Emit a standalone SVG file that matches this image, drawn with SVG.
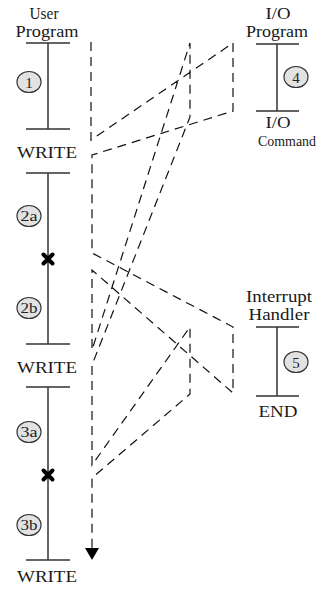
<svg xmlns="http://www.w3.org/2000/svg" width="323" height="589" viewBox="0 0 323 589">
<defs>
<style>
.t{font-family:"Liberation Serif","Times New Roman",serif;font-size:17px;fill:#1a1a1a;text-anchor:middle}
.c{font-family:"Liberation Serif","Times New Roman",serif;font-size:15px;fill:#222;text-anchor:middle}
.s{stroke:#333;stroke-width:1.5;fill:none}
.e{fill:#e2e2e2;stroke:#333;stroke-width:1.2}
.x{stroke:#000;stroke-width:4;stroke-linecap:round}
.d{stroke:#111;stroke-width:1.2;fill:none;stroke-dasharray:9 6}
</style>
<marker id="ah" viewBox="0 0 12 14" refX="0" refY="7" markerWidth="12" markerHeight="14" markerUnits="userSpaceOnUse" orient="auto">
<path d="M0,0 L12,7 L0,14 Z" fill="#000"/>
</marker>
</defs>
<rect width="323" height="589" fill="#fff"/>

<g id="user-program">
<text class="t" x="44" y="19" textLength="29" lengthAdjust="spacingAndGlyphs">User</text>
<text class="t" x="47" y="37" textLength="63" lengthAdjust="spacingAndGlyphs">Program</text>
<path class="s" d="M26,43 H70 M48,43 V129 M26,129 H70 M26,173 H70 M48,173 V344 M26,344 H70 M26,387 H70 M48,387 V560 M26,560 H70"/>
<text class="t" x="47" y="158" textLength="60" lengthAdjust="spacingAndGlyphs">WRITE</text>
<text class="t" x="47" y="373" textLength="60" lengthAdjust="spacingAndGlyphs">WRITE</text>
<text class="t" x="47" y="582" textLength="60" lengthAdjust="spacingAndGlyphs">WRITE</text>
<ellipse class="e" cx="29" cy="82" rx="12" ry="10.5"/>
<text class="c" x="29" y="87.5">1</text>
<ellipse class="e" cx="29" cy="216" rx="12" ry="10.5"/>
<text class="c" x="29" y="221" textLength="17" lengthAdjust="spacingAndGlyphs">2a</text>
<ellipse class="e" cx="29" cy="308" rx="12" ry="10.5"/>
<text class="c" x="29" y="313" textLength="17" lengthAdjust="spacingAndGlyphs">2b</text>
<ellipse class="e" cx="29" cy="432" rx="12" ry="10.5"/>
<text class="c" x="29" y="437" textLength="17" lengthAdjust="spacingAndGlyphs">3a</text>
<ellipse class="e" cx="29" cy="525" rx="12" ry="10.5"/>
<text class="c" x="29" y="530" textLength="17" lengthAdjust="spacingAndGlyphs">3b</text>
<path class="x" d="M43.5,254.5 L52.5,263.5 M52.5,254.5 L43.5,263.5"/>
<path class="x" d="M43.5,470.5 L52.5,479.5 M52.5,470.5 L43.5,479.5"/>
</g>

<g id="io-program">
<text class="t" x="278" y="19" textLength="25" lengthAdjust="spacingAndGlyphs">I/O</text>
<text class="t" x="277" y="37" textLength="62" lengthAdjust="spacingAndGlyphs">Program</text>
<path class="s" d="M256,44 H299 M277,44 V111 M256,111 H299"/>
<ellipse class="e" cx="296" cy="77" rx="12" ry="10.5"/>
<text class="c" x="296" y="82.5">4</text>
<text class="t" x="278" y="128" textLength="25" lengthAdjust="spacingAndGlyphs">I/O</text>
<text class="t" x="287" y="146" style="font-size:14.5px" textLength="58" lengthAdjust="spacingAndGlyphs">Command</text>
</g>

<g id="interrupt-handler">
<text class="t" x="279" y="302" textLength="66" lengthAdjust="spacingAndGlyphs">Interrupt</text>
<text class="t" x="279" y="320" textLength="61" lengthAdjust="spacingAndGlyphs">Handler</text>
<path class="s" d="M256,327 H299 M277,327 V396 M256,396 H299"/>
<ellipse class="e" cx="296" cy="362" rx="12" ry="10.5"/>
<text class="c" x="296" y="367.5">5</text>
<text class="t" x="278" y="417" textLength="39" lengthAdjust="spacingAndGlyphs">END</text>
</g>

<g id="connectors">
<path class="d" marker-end="url(#ah)" d="M91,42 V140 L233,43 V111 L92,155 V253 L233,327 V393 L92,270 V350 L190,43 V117 L92,365 V465 L190,327 V394 L92,478 V548"/>
</g>
</svg>
